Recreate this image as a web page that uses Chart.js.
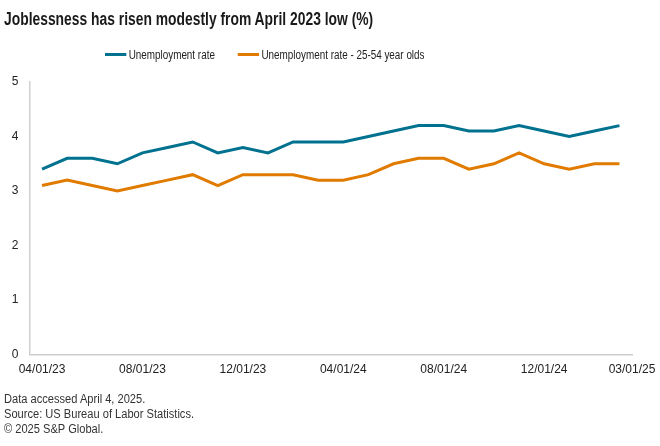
<!DOCTYPE html>
<html>
<head>
<meta charset="utf-8">
<script src="https://cdn.jsdelivr.net/npm/chart.js@4.4.1/dist/chart.umd.min.js"></script>
<style>
  body { margin: 0; background: #fff; }
  #wrap { position: relative; width: 660px; height: 446px; overflow: hidden; }
  canvas { position: absolute; left: 0; top: 0; }
  /* the source font is a narrow grotesk, so squeeze Liberation Sans a bit */
  .narrow { position: absolute; white-space: nowrap; transform-origin: 0 0; }
  #title {
    left: 4px; top: 9px;
    font: bold 18px "Liberation Sans", Arial, sans-serif;
    color: #1a1a1a; transform: scaleX(0.77);
  }
  #legend {
    left: 105px; top: 48px;
    font: 12.5px "Liberation Sans", Arial, sans-serif;
    color: #222; transform: scaleX(0.79);
  }
  #legend .item { display: inline-block; margin-right: 29px; }
  #legend .swatch {
    display: inline-block; width: 27px; height: 3px;
    vertical-align: middle; margin-right: 3px; position: relative; top: -1px;
  }
  #foot {
    left: 4px; top: 392px;
    font: 12px "Liberation Sans", Arial, sans-serif;
    color: #333; line-height: 15px; transform: scaleX(0.925);
  }
</style>
</head>
<body>
<div id="wrap">
  <canvas id="chart" width="660" height="446"></canvas>
  <div id="title" class="narrow">Joblessness has risen modestly from April 2023 low (%)</div>
  <div id="legend" class="narrow"></div>
  <div id="foot" class="narrow">
    Data accessed April 4, 2025.<br>
    Source: US Bureau of Labor Statistics.<br>
    © 2025 S&amp;P Global.
  </div>
</div>
<script>
// monthly points, 04/01/23 .. 03/01/25
const months = ['04/01/23','05/01/23','06/01/23','07/01/23','08/01/23','09/01/23','10/01/23','11/01/23',
  '12/01/23','01/01/24','02/01/24','03/01/24','04/01/24','05/01/24','06/01/24','07/01/24',
  '08/01/24','09/01/24','10/01/24','11/01/24','12/01/24','01/01/25','02/01/25','03/01/25'];
const unemp = [3.4,3.6,3.6,3.5,3.7,3.8,3.9,3.7,3.8,3.7,3.9,3.9,3.9,4.0,4.1,4.2,4.2,4.1,4.1,4.2,4.1,4.0,4.1,4.2];
const unemp2554 = [3.1,3.2,3.1,3.0,3.1,3.2,3.3,3.1,3.3,3.3,3.3,3.2,3.2,3.3,3.5,3.6,3.6,3.4,3.5,3.7,3.5,3.4,3.5,3.5];
const xTickLabels = ['04/01/23','08/01/23','12/01/23','04/01/24','08/01/24','12/01/24','03/01/25'];
const yTicks = [0,1,2,3,4,5];

function pts(arr) {
  return arr.map((v, i) => ({x: i, y: v}));
}

const ctx = document.getElementById('chart').getContext('2d');
const chart = new Chart(ctx, {
  type: 'line',
  data: {
    datasets: [{
      label: 'Unemployment rate',
      data: pts(unemp),
      borderColor: '#00728f',
      backgroundColor: '#00728f',
      borderWidth: 3,
      pointRadius: 0,
      tension: 0
    }, {
      label: 'Unemployment rate - 25-54 year olds',
      data: pts(unemp2554),
      borderColor: '#e07b00',
      backgroundColor: '#e07b00',
      borderWidth: 3,
      pointRadius: 0,
      tension: 0
    }]
  },
  options: {
    responsive: false,
    animation: false,
    layout: { padding: { top: 82, left: 4, right: 28, bottom: 69 } },
    plugins: {
      legend: { display: false },
      tooltip: { enabled: false }
    },
    scales: {
      x: {
        type: 'linear',
        min: -0.5,
        max: months.length - 0.5,
        grid: { display: false },
        border: { color: '#cccccc', width: 1.5 },
        afterBuildTicks: axis => {
          axis.ticks = xTickLabels.map(l =>
            ({ value: l === months[months.length - 1] ? axis.max : months.indexOf(l) }));
        },
        ticks: {
          autoSkip: false,
          maxRotation: 0,
          padding: 0,
          color: '#222',
          font: { family: '"Liberation Sans"', size: 12 },
          callback: (v, i) => xTickLabels[i]
        }
      },
      y: {
        min: 0,
        max: 5,
        grid: { display: false, drawTicks: false },
        border: { color: '#d0d0d0', width: 1.5 },
        afterBuildTicks: axis => { axis.ticks = yTicks.map(v => ({ value: v })); },
        afterFit: axis => { axis.width = 25.5; },
        ticks: {
          padding: 11,
          color: '#222',
          font: { family: '"Liberation Sans"', size: 12 }
        }
      }
    }
  }
});

// html legend from the chart's datasets
const legend = document.getElementById('legend');
chart.data.datasets.forEach(ds => {
  const item = document.createElement('span');
  item.className = 'item';
  const sw = document.createElement('span');
  sw.className = 'swatch';
  sw.style.background = ds.borderColor;
  item.appendChild(sw);
  item.appendChild(document.createTextNode(ds.label));
  legend.appendChild(item);
});
</script>
</body>
</html>
